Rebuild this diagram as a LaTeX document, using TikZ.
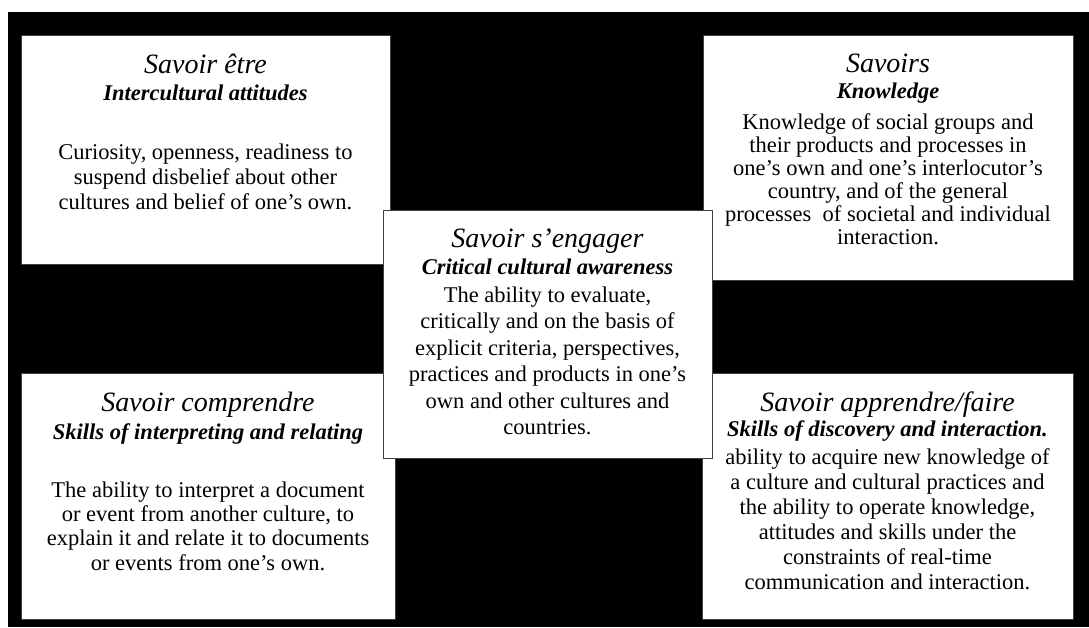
\documentclass[tikz,border=0pt]{standalone}
\usepackage{fontspec}
\setmainfont{Liberation Serif}
\usepackage{tikz}
\usetikzlibrary{positioning}

\begin{document}
\begin{tikzpicture}
[
	x = 1pt, y = 1pt,
	card/.style = {rectangle, draw = black!75, fill = white, line width = 1pt, inner sep = 0pt},
	title/.style = {inner sep = 0pt, font = \fontsize{28}{30}\selectfont\itshape, text height = 20pt, text depth = 6pt},
	subtitle/.style = {inner sep = 0pt, font = \fontsize{22.5}{24}\selectfont\bfseries\itshape, text height = 16pt, text depth = 5pt},
	body/.style = {inner sep = 0pt, align = center},
]

	% page and black ground
	\useasboundingbox [fill = white] (0,0) rectangle (1089,627);
	\fill [black] (8,0) rectangle (1089,615);

	% cards
	\node (TL) [card, minimum width = 369pt, minimum height = 229pt] at (205.5,476.5) {};
	\node (TR) [card, minimum width = 370pt, minimum height = 245pt] at (888,468.5) {};
	\node (BL) [card, minimum width = 374pt, minimum height = 245pt] at (208,130.5) {};
	\node (BR) [card, minimum width = 371pt, minimum height = 245pt] at (887.5,130.5) {};
	\node (C) [card, minimum width = 329pt, minimum height = 247pt] at (547.5,292.5) {};

	% savoir etre
	\node (TLt) [title, below = 18pt of TL.north] {Savoir être};
	\node (TLs) [subtitle, below = 4pt of TLt] {Intercultural attitudes};
	\node (TLb) [body, font = \fontsize{22.5}{25}\selectfont, below = 38.5pt of TLs]
	{Curiosity, openness, readiness to\\ suspend disbelief about other\\ cultures and belief of one’s own.};

	% savoirs
	\node (TRt) [title, below = 17pt of TR.north] {Savoirs};
	\node (TRs) [subtitle, below = 3pt of TRt] {Knowledge};
	\node (TRb) [body, font = \fontsize{22.5}{23}\selectfont, below = 10pt of TRs]
	{Knowledge of social groups and\\ their products and processes in\\ one’s own and one’s interlocutor’s\\ country, and of the general\\ processes\ \ of societal and individual\\ interaction.};

	% savoir comprendre
	\node (BLt) [title, below = 18pt of BL.north] {Savoir comprendre};
	\node (BLs) [subtitle, below = 5pt of BLt] {Skills of interpreting and relating};
	\node (BLb) [body, font = \fontsize{22.5}{24.3}\selectfont, below = 37pt of BLs]
	{The ability to interpret a document\\ or event from another culture, to\\ explain it and relate it to documents\\ or events from one’s own.};

	% savoir apprendre/faire
	\node (BRt) [title, below = 18pt of BR.north] {Savoir apprendre/faire};
	\node (BRs) [subtitle, below = 2pt of BRt] {Skills of discovery and interaction.};
	\node (BRb) [body, font = \fontsize{22.5}{25}\selectfont, below = 7pt of BRs]
	{ability to acquire new knowledge of\\ a culture and cultural practices and\\ the ability to operate knowledge,\\ attitudes and skills under the\\ constraints of real-time\\ communication and interaction.};

	% savoir s'engager
	\node (Ct) [title, below = 17pt of C.north] {Savoir s’engager};
	\node (Cs) [subtitle, below = 4pt of Ct] {Critical cultural awareness};
	\node (Cb) [body, font = \fontsize{22.5}{26.5}\selectfont, below = 7pt of Cs]
	{The ability to evaluate,\\ critically and on the basis of\\ explicit criteria, perspectives,\\ practices and products in one’s\\ own and other cultures and\\ countries.};

\end{tikzpicture}
\end{document}
